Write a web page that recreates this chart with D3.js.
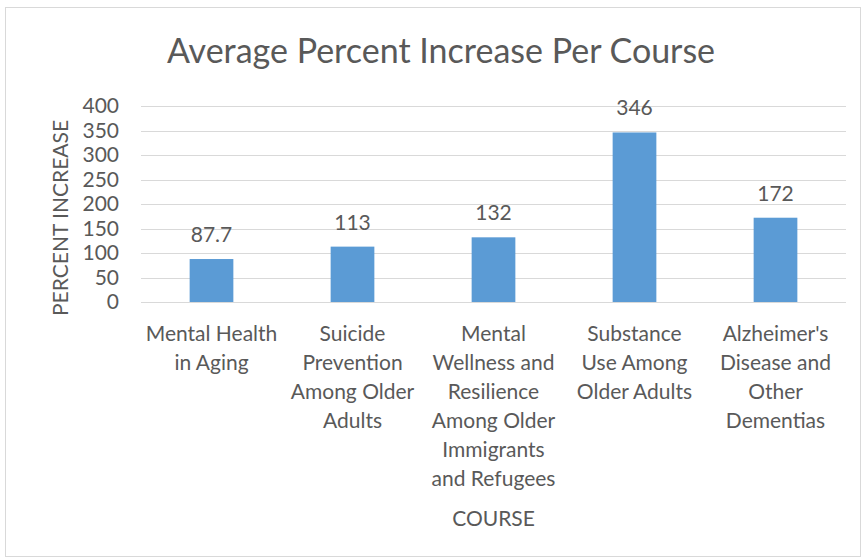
<!DOCTYPE html>
<html>
<head>
<meta charset="utf-8">
<script src="https://cdn.jsdelivr.net/npm/d3@7"></script>
<style>
  body { margin: 0; background: #fff; }
  text { font-family: Lato, "Open Sans", sans-serif; fill: #595959; }
</style>
</head>
<body>
<div id="chart"></div>
<script>
const categories = [
  ['Mental Health', 'in Aging'],
  ['Suicide', 'Prevention', 'Among Older', 'Adults'],
  ['Mental', 'Wellness and', 'Resilience', 'Among Older', 'Immigrants', 'and Refugees'],
  ['Substance', 'Use Among', 'Older Adults'],
  ["Alzheimer's", 'Disease and', 'Other', 'Dementias']
];
const values = [87.7, 113, 132, 346, 172];
const valueLabels = ['87.7', '113', '132', '346', '172'];
const yTicks = [0, 50, 100, 150, 200, 250, 300, 350, 400];

const W = 864, H = 558;
const svg = d3.select('#chart').append('svg').attr('width', W).attr('height', H);

// chart frame
svg.append('rect')
  .attr('x', 5.5).attr('y', 7.5)
  .attr('width', 855).attr('height', 549)
  .attr('fill', '#fff').attr('stroke', '#d9d9d9');

const plot = { left: 141, right: 846, top: 106, bottom: 302 };

const x = d3.scaleBand()
  .domain(d3.range(categories.length))
  .range([plot.left, plot.right])
  .paddingInner(0.69).paddingOuter(0.345);

const y = d3.scaleLinear().domain([0, 400]).range([plot.bottom, plot.top]);

// gridlines
svg.append('g').selectAll('line').data(yTicks).enter().append('line')
  .attr('x1', plot.left).attr('x2', plot.right)
  .attr('y1', (d) => Math.round(y(d)) + 0.5).attr('y2', (d) => Math.round(y(d)) + 0.5)
  .attr('stroke', '#d9d9d9').attr('stroke-width', 1);

// y tick labels
const yAxis = d3.axisLeft(y).tickValues(yTicks).tickSize(0).tickPadding(0);
const gy = svg.append('g').attr('transform', `translate(119,0)`).call(yAxis);
gy.select('.domain').remove();
gy.selectAll('text').attr('font-size', 21).style('fill', '#595959')
  .style('font-family', 'Lato, sans-serif');

// bars
svg.append('g').selectAll('rect').data(values).enter().append('rect')
  .attr('x', (d, i) => x(i))
  .attr('y', (d) => y(d))
  .attr('width', x.bandwidth())
  .attr('height', (d) => y(0) - y(d))
  .attr('fill', '#5b9bd5');

// data labels
svg.append('g').selectAll('text').data(values).enter().append('text')
  .attr('x', (d, i) => x(i) + x.bandwidth() / 2)
  .attr('y', (d) => y(d) - 17)
  .attr('text-anchor', 'middle')
  .attr('font-size', 21)
  .text((d, i) => valueLabels[i]);

// category labels
svg.append('g').selectAll('text').data(categories).enter().append('text')
  .attr('x', (d, i) => x(i) + x.bandwidth() / 2)
  .attr('y', 341)
  .attr('text-anchor', 'middle')
  .attr('font-size', 21)
  .each(function (lines, i) {
    d3.select(this).selectAll('tspan').data(lines).enter().append('tspan')
      .attr('x', x(i) + x.bandwidth() / 2)
      .attr('dy', (l, j) => (j === 0 ? 0 : 29))
      .text((l) => l);
  });

// axis titles
svg.append('text')
  .attr('x', (plot.left + plot.right) / 2).attr('y', 526)
  .attr('text-anchor', 'middle').attr('font-size', 21)
  .text('COURSE');

svg.append('text')
  .attr('transform', `translate(68,${(plot.top + plot.bottom) / 2 + 14}) rotate(-90)`)
  .attr('text-anchor', 'middle').attr('font-size', 21)
  .text('PERCENT INCREASE');

// title
svg.append('text')
  .attr('x', 441).attr('y', 63)
  .attr('text-anchor', 'middle').attr('font-size', 34)
  .text('Average Percent Increase Per Course');
</script>
</body>
</html>
